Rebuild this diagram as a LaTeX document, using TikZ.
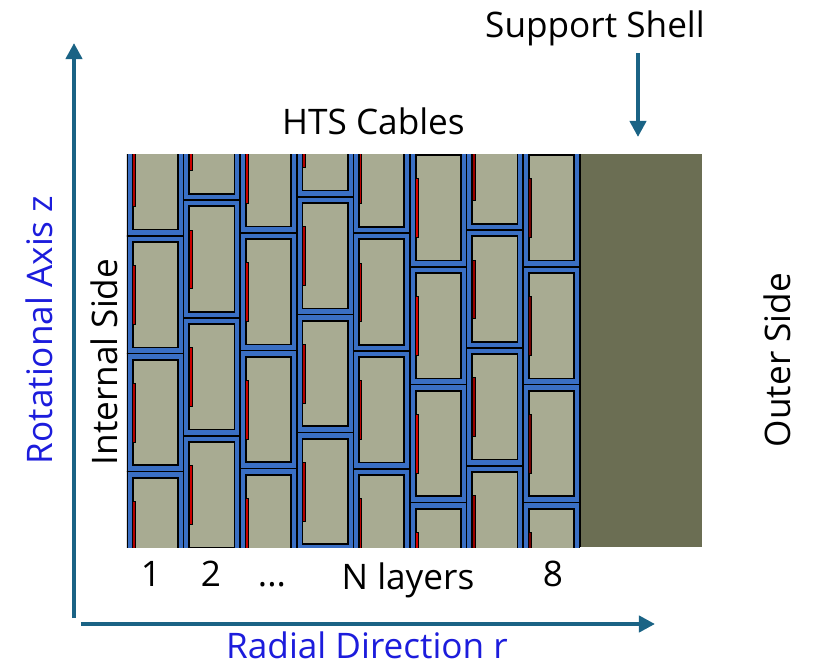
\documentclass[tikz,border=0pt]{standalone}
\usepackage{fontspec}
\setmainfont{Open Sans}
\usetikzlibrary{arrows.meta}
\definecolor{cableblue}{HTML}{3A6FC4}
\definecolor{cablefill}{HTML}{A8AB92}
\definecolor{shellfill}{HTML}{6B6E53}
\definecolor{axisteal}{HTML}{1A6385}
\definecolor{labelblue}{HTML}{1C1CDC}
\tikzset{
    axisarrow/.style={-{Triangle[length=0.16cm,width=0.16cm]},axisteal,line width=0.04cm},
    plainlabel/.style={font=\fontsize{10}{12}\selectfont,anchor=base,inner sep=0pt},
    axislabel/.style={plainlabel,text=labelblue}
}

\begin{document}
\begin{tikzpicture}[x=0.01cm,y=-0.01cm]
    \useasboundingbox (0,0) rectangle (817,663);

    \fill [shellfill] (580,154) rectangle (702,547);
    \begin{scope}
        \clip (127,154) rectangle (580,547);
        \foreach \col/\seam/\redmix in {0/235.7/70,1/200/80,2/232.7/80,3/196.7/70,4/233/75,5/266.7/85,6/230/60,7/266.7/45}{
            \foreach \row in {-2,...,3}{
                \pgfmathsetmacro{\xa}{127+\col*56.6}
                \pgfmathsetmacro{\ya}{\seam+\row*117.9}
                \draw [fill=cableblue,line width=0.016cm] (\xa,\ya) rectangle ++(56.6,117.9);
                \draw [fill=cablefill,line width=0.017cm] (\xa+5.7,\ya+6.2) rectangle ++(45.2,105.5);
                \draw [fill=red!\redmix!black,line width=0.01cm] (\xa+5.7,\ya+30) rectangle ++(2.8,58.6);
            }
        }
    \end{scope}
    \draw [line width=0.02cm] (580,154)--(580,547);

    \node [plainlabel] (shell) at (595,37.5) {Support Shell};
    \node [plainlabel] (cables) at (373.5,134.5) {HTS Cables};
    \node [plainlabel] (one) at (151,586.5) {1};
    \node [plainlabel] (two) at (211,586.5) {2};
    \node [plainlabel] (dots) at (272,586.5) {...};
    \node [plainlabel] (layers) at (408,589) {N layers};
    \node [plainlabel] (eight) at (553,586.5) {8};
    \node [axislabel] (radial) at (367,658) {Radial Direction r};
    \node [axislabel,rotate=90] (axial) at (53,330) {Rotational Axis z};
    \node [plainlabel,rotate=90] (internal) at (117,362) {Internal Side};
    \node [plainlabel,rotate=90] (outer) at (791,360) {Outer Side};

    \coordinate (zstart) at (74,618);
    \coordinate (ztip) at (74,43);
    \coordinate (rstart) at (81,624);
    \coordinate (rtip) at (655,624);
    \coordinate (shellstart) at (638,53);
    \coordinate (shelltip) at (638,137);
    \draw [axisarrow] (zstart)--(ztip);
    \draw [axisarrow] (rstart)--(rtip);
    \draw [axisarrow] (shellstart)--(shelltip);
\end{tikzpicture}
\end{document}
